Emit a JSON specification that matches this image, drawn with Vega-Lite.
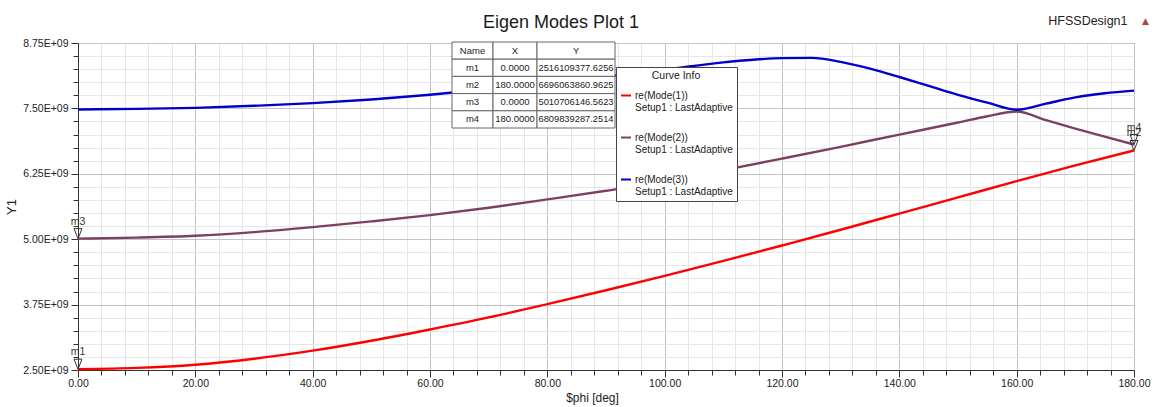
{
  "$schema": "https://vega.github.io/schema/vega-lite/v6.json",
  "width": 1056,
  "height": 327,
  "autosize": {"type": "none"},
  "padding": {"left": 78, "top": 43, "right": 20, "bottom": 37},
  "background": "white",
  "title": {"text": "Eigen Modes Plot 1", "fontSize": 18, "fontWeight": "normal", "color": "#1a1a1a", "anchor": "middle", "dx": -45, "offset": -32, "baseline": "alphabetic"},
  "config": {
    "font": "Liberation Sans, Arial, sans-serif",
    "view": {"stroke": "#505050", "strokeWidth": 1}
  },
  "datasets": {
    "curves": [
      {"phi": 0, "Y": 2516109377.6256, "curve": "re(Mode(1))"},
      {"phi": 10, "Y": 2540000000, "curve": "re(Mode(1))"},
      {"phi": 20, "Y": 2600000000, "curve": "re(Mode(1))"},
      {"phi": 30, "Y": 2715000000, "curve": "re(Mode(1))"},
      {"phi": 40, "Y": 2870000000, "curve": "re(Mode(1))"},
      {"phi": 50, "Y": 3060000000, "curve": "re(Mode(1))"},
      {"phi": 60, "Y": 3275000000, "curve": "re(Mode(1))"},
      {"phi": 70, "Y": 3505000000, "curve": "re(Mode(1))"},
      {"phi": 80, "Y": 3760000000, "curve": "re(Mode(1))"},
      {"phi": 90, "Y": 4025000000, "curve": "re(Mode(1))"},
      {"phi": 100, "Y": 4300000000, "curve": "re(Mode(1))"},
      {"phi": 110, "Y": 4585000000, "curve": "re(Mode(1))"},
      {"phi": 120, "Y": 4880000000, "curve": "re(Mode(1))"},
      {"phi": 130, "Y": 5180000000, "curve": "re(Mode(1))"},
      {"phi": 140, "Y": 5490000000, "curve": "re(Mode(1))"},
      {"phi": 150, "Y": 5800000000, "curve": "re(Mode(1))"},
      {"phi": 160, "Y": 6110000000, "curve": "re(Mode(1))"},
      {"phi": 170, "Y": 6410000000, "curve": "re(Mode(1))"},
      {"phi": 180, "Y": 6696063860.9625, "curve": "re(Mode(1))"},
      {"phi": 0, "Y": 5010706146.5623, "curve": "re(Mode(2))"},
      {"phi": 10, "Y": 5030000000, "curve": "re(Mode(2))"},
      {"phi": 20, "Y": 5065000000, "curve": "re(Mode(2))"},
      {"phi": 30, "Y": 5135000000, "curve": "re(Mode(2))"},
      {"phi": 40, "Y": 5230000000, "curve": "re(Mode(2))"},
      {"phi": 50, "Y": 5340000000, "curve": "re(Mode(2))"},
      {"phi": 60, "Y": 5460000000, "curve": "re(Mode(2))"},
      {"phi": 70, "Y": 5600000000, "curve": "re(Mode(2))"},
      {"phi": 80, "Y": 5760000000, "curve": "re(Mode(2))"},
      {"phi": 90, "Y": 5925000000, "curve": "re(Mode(2))"},
      {"phi": 100, "Y": 6105000000, "curve": "re(Mode(2))"},
      {"phi": 110, "Y": 6320000000, "curve": "re(Mode(2))"},
      {"phi": 120, "Y": 6540000000, "curve": "re(Mode(2))"},
      {"phi": 130, "Y": 6765000000, "curve": "re(Mode(2))"},
      {"phi": 140, "Y": 7000000000, "curve": "re(Mode(2))"},
      {"phi": 150, "Y": 7230000000, "curve": "re(Mode(2))"},
      {"phi": 155, "Y": 7350000000, "curve": "re(Mode(2))"},
      {"phi": 160, "Y": 7440000000, "curve": "re(Mode(2))"},
      {"phi": 165, "Y": 7275000000, "curve": "re(Mode(2))"},
      {"phi": 170, "Y": 7115000000, "curve": "re(Mode(2))"},
      {"phi": 175, "Y": 6960000000, "curve": "re(Mode(2))"},
      {"phi": 180, "Y": 6809839287.2514, "curve": "re(Mode(2))"},
      {"phi": 0, "Y": 7480000000, "curve": "re(Mode(3))"},
      {"phi": 10, "Y": 7490000000, "curve": "re(Mode(3))"},
      {"phi": 20, "Y": 7510000000, "curve": "re(Mode(3))"},
      {"phi": 30, "Y": 7550000000, "curve": "re(Mode(3))"},
      {"phi": 40, "Y": 7600000000, "curve": "re(Mode(3))"},
      {"phi": 50, "Y": 7670000000, "curve": "re(Mode(3))"},
      {"phi": 60, "Y": 7760000000, "curve": "re(Mode(3))"},
      {"phi": 70, "Y": 7870000000, "curve": "re(Mode(3))"},
      {"phi": 80, "Y": 7990000000, "curve": "re(Mode(3))"},
      {"phi": 90, "Y": 8110000000, "curve": "re(Mode(3))"},
      {"phi": 100, "Y": 8240000000, "curve": "re(Mode(3))"},
      {"phi": 110, "Y": 8380000000, "curve": "re(Mode(3))"},
      {"phi": 115, "Y": 8430000000, "curve": "re(Mode(3))"},
      {"phi": 120, "Y": 8460000000, "curve": "re(Mode(3))"},
      {"phi": 125, "Y": 8465000000, "curve": "re(Mode(3))"},
      {"phi": 130, "Y": 8390000000, "curve": "re(Mode(3))"},
      {"phi": 135, "Y": 8260000000, "curve": "re(Mode(3))"},
      {"phi": 140, "Y": 8100000000, "curve": "re(Mode(3))"},
      {"phi": 145, "Y": 7930000000, "curve": "re(Mode(3))"},
      {"phi": 150, "Y": 7760000000, "curve": "re(Mode(3))"},
      {"phi": 155, "Y": 7610000000, "curve": "re(Mode(3))"},
      {"phi": 160, "Y": 7475000000, "curve": "re(Mode(3))"},
      {"phi": 165, "Y": 7590000000, "curve": "re(Mode(3))"},
      {"phi": 170, "Y": 7710000000, "curve": "re(Mode(3))"},
      {"phi": 175, "Y": 7790000000, "curve": "re(Mode(3))"},
      {"phi": 180, "Y": 7840000000, "curve": "re(Mode(3))"}
    ],
    "markers": [
      {"name": "m1", "phi": 0, "Y": 2516109377.6256},
      {"name": "m2", "phi": 180, "Y": 6696063860.9625},
      {"name": "m3", "phi": 0, "Y": 5010706146.5623},
      {"name": "m4", "phi": 180, "Y": 6809839287.2514}
    ],
    "table": [
      {"row": "Name", "Name": "Name", "X": "X", "Y": "Y"},
      {"row": "m1", "Name": "m1", "X": "0.0000", "Y": "2516109377.6256"},
      {"row": "m2", "Name": "m2", "X": "180.0000", "Y": "6696063860.9625"},
      {"row": "m3", "Name": "m3", "X": "0.0000", "Y": "5010706146.5623"},
      {"row": "m4", "Name": "m4", "X": "180.0000", "Y": "6809839287.2514"}
    ]
  },
  "layer": [
    {
      "encoding": {
        "x": {
          "field": "phi", "type": "quantitative",
          "scale": {"domain": [0, 180], "nice": false, "zero": false},
          "axis": {
            "values": [0,4,8,12,16,20,24,28,32,36,40,44,48,52,56,60,64,68,72,76,80,84,88,92,96,100,104,108,112,116,120,124,128,132,136,140,144,148,152,156,160,164,168,172,176,180],
            "labelExpr": "datum.value % 20 === 0 ? format(datum.value, '.2f') : ''",
            "labelFlush": false, "labelOverlap": false,
            "grid": true,
            "gridColor": {"condition": {"test": "datum.value % 20 === 0", "value": "#c4c4c4"}, "value": "#e6e6e6"},
            "tickSize": {"condition": {"test": "datum.value % 20 === 0", "value": 7}, "value": 5},
            "tickColor": "#333", "domainColor": "#333",
            "labelFontSize": 10.5, "labelColor": "#222", "labelPadding": 1,
            "title": "$phi [deg]", "titleFontSize": 12, "titleFontWeight": "normal", "titleColor": "#222", "titlePadding": 4, "titleX": 514
          }
        },
        "y": {
          "field": "Y", "type": "quantitative",
          "scale": {"domain": [2500000000, 8750000000], "nice": false, "zero": false},
          "axis": {
            "values": [2500000000,2750000000,3000000000,3250000000,3500000000,3750000000,4000000000,4250000000,4500000000,4750000000,5000000000,5250000000,5500000000,5750000000,6000000000,6250000000,6500000000,6750000000,7000000000,7250000000,7500000000,7750000000,8000000000,8250000000,8500000000,8750000000],
            "labelExpr": "abs((datum.value - 2500000000) / 1250000000 - round((datum.value - 2500000000) / 1250000000)) < 0.001 ? replace(format(datum.value, '.2e'), 'e+', 'E+0') : ''",
            "labelFlush": false, "labelOverlap": false,
            "grid": true,
            "gridColor": {"condition": {"test": "abs((datum.value - 2500000000) / 1250000000 - round((datum.value - 2500000000) / 1250000000)) < 0.001", "value": "#c4c4c4"}, "value": "#e6e6e6"},
            "tickSize": {"condition": {"test": "abs((datum.value - 2500000000) / 1250000000 - round((datum.value - 2500000000) / 1250000000)) < 0.001", "value": 7}, "value": 5},
            "tickColor": "#333", "domainColor": "#333",
            "labelFontSize": 10.5, "labelColor": "#222", "labelPadding": 3,
            "title": "Y1", "titleFontSize": 13, "titleFontWeight": "normal", "titleColor": "#222", "titlePadding": 4
          }
        }
      },
      "layer": [
        {
          "data": {"name": "curves"},
          "mark": {"type": "line", "strokeWidth": 2.4, "interpolate": "monotone"},
          "encoding": {
            "color": {
              "field": "curve", "type": "nominal",
              "scale": {"domain": ["re(Mode(1))", "re(Mode(2))", "re(Mode(3))"], "range": ["#ff0000", "#7d4062", "#0000cc"]},
              "legend": {
                "orient": "none", "legendX": 538, "legendY": 24,
                "title": "Curve Info", "titleAnchor": "middle", "titleFontSize": 10.5, "titleFontWeight": "normal", "titleColor": "#222", "titlePadding": 8,
                "fillColor": "white", "strokeColor": "#444", "padding": 4,
                "symbolType": "stroke", "symbolStrokeWidth": 2, "symbolSize": 100,
                "labelFontSize": 10, "labelColor": "#222", "labelLimit": 220, "labelOffset": 3,
                "labelExpr": "[datum.label, 'Setup1 : LastAdaptive']",
                "rowPadding": 19
              }
            }
          }
        },
        {
          "data": {"name": "markers"},
          "mark": {"type": "point", "shape": "M-0.8,-2L0.8,-2L0,0Z", "size": 100, "filled": false, "stroke": "#333", "strokeWidth": 1, "opacity": 1}
        },
        {
          "data": {"name": "markers"},
          "mark": {"type": "text", "dy": -17, "fontSize": 10.5, "color": "#333"},
          "encoding": {"text": {"field": "name"}}
        }
      ]
    },
    {
      "data": {"name": "table"},
      "encoding": {
        "y": {"field": "row", "type": "nominal", "scale": {"domain": ["Name", "m1", "m2", "m3", "m4"], "range": [-1, 85], "paddingInner": 0, "paddingOuter": 0}, "axis": null}
      },
      "layer": [
        {
          "encoding": {"x": {"datum": "Name", "type": "nominal", "scale": {"domain": ["Name"], "range": [374, 415], "paddingInner": 0, "paddingOuter": 0}, "axis": null}},
          "layer": [
            {"mark": {"type": "rect", "fill": "white", "stroke": "#666", "strokeWidth": 1}},
            {"mark": {"type": "text", "fontSize": 9.5, "color": "#222"}, "encoding": {"text": {"field": "Name"}}}
          ]
        },
        {
          "encoding": {"x": {"datum": "X", "type": "nominal", "scale": {"domain": ["X"], "range": [415, 459], "paddingInner": 0, "paddingOuter": 0},
            "axis": {"orient": "top", "labels": false, "ticks": false, "domain": false, "grid": false, "title": "▲", "titleColor": "#a84848", "titleFontSize": 9, "titleFontWeight": "normal", "titleX": 1067, "titleY": -20, "titleAlign": "center", "titleBaseline": "alphabetic", "titleFont": "DejaVu Sans"}}},
          "layer": [
            {"mark": {"type": "rect", "fill": "white", "stroke": "#666", "strokeWidth": 1}},
            {"mark": {"type": "text", "fontSize": 9.5, "color": "#222"}, "encoding": {"text": {"field": "X"}}}
          ]
        },
        {
          "encoding": {"x": {"datum": "Y", "type": "nominal", "scale": {"domain": ["Y"], "range": [459, 537], "paddingInner": 0, "paddingOuter": 0},
            "axis": {"orient": "top", "labels": false, "ticks": false, "domain": false, "grid": false, "title": "HFSSDesign1", "titleColor": "#222", "titleFontSize": 12.5, "titleFontWeight": "normal", "titleX": 1049, "titleY": -19, "titleAlign": "right", "titleBaseline": "alphabetic"}}},
          "layer": [
            {"mark": {"type": "rect", "fill": "white", "stroke": "#666", "strokeWidth": 1}},
            {"mark": {"type": "text", "fontSize": 9.3, "color": "#222"}, "encoding": {"text": {"field": "Y"}}}
          ]
        }
      ],
      "resolve": {"scale": {"x": "independent"}}
    }
  ],
  "resolve": {"scale": {"x": "independent", "y": "independent"}}
}
